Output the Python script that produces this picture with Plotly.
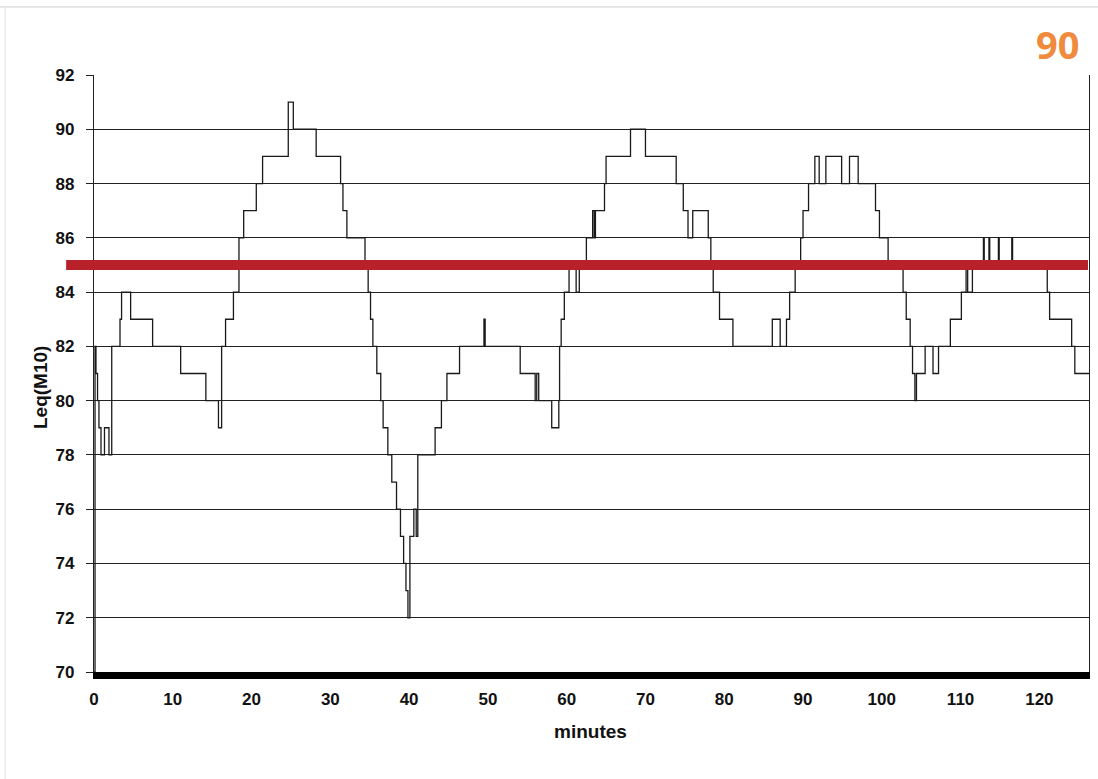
import plotly.graph_objects as go

# Step series: change points (minutes) and Leq(M10) levels (dB)
times = [0, 0.13, 0.25, 0.45, 0.63, 0.89, 1.33, 1.9, 2.25, 3.3, 3.5, 4.65, 7.44, 11.0, 14.2, 15.8,
         16.2, 16.7, 17.7, 18.4, 19.0, 20.6, 21.4, 24.66, 25.3, 28.2, 31.3, 31.6, 32.1, 34.4, 34.8,
         35.1, 35.4, 35.9, 36.4, 36.7, 37.3, 37.8, 38.4, 38.9, 39.3, 39.6, 39.85, 40.1, 40.6, 40.9,
         41.1, 43.3, 44.1, 44.8, 46.4, 49.5, 49.65, 54.1, 56.0, 56.2, 56.45, 58.1, 59.0, 59.1, 59.3,
         59.7, 60.3, 61.2, 61.6, 62.5, 63.3, 63.5, 63.65, 64.8, 65.0, 68.1, 70.0, 73.9, 74.8, 75.4,
         76.0, 77.97, 78.3, 78.6, 79.4, 81.1, 86.1, 87.1, 87.9, 88.3, 89.0, 89.7, 90.0, 90.7, 91.5,
         92.05, 92.9, 94.9, 95.9, 97.0, 99.2, 99.7, 100.8, 102.7, 103.1, 103.6, 103.9, 104.2, 104.4,
         105.5, 106.5, 107.2, 108.7, 110.1, 110.7, 110.9, 111.5, 112.9, 113.0, 113.6, 113.7, 114.8,
         114.9, 116.5, 116.6, 121.0, 121.3, 124.1, 124.5, 126.3]
levels = [70, 82, 81, 80, 79, 78, 79, 78, 82, 83, 84, 83, 82, 81, 80, 79,
          82, 83, 84, 86, 87, 88, 89, 91, 90, 89, 88, 87, 86, 85, 84,
          83, 82, 81, 80, 79, 78, 77, 76, 75, 74, 73, 72, 75, 76, 75,
          78, 79, 80, 81, 82, 83, 82, 81, 80, 81, 80, 79, 80, 82, 83,
          84, 85, 84, 85, 86, 87, 86, 87, 88, 89, 90, 89, 88, 87, 86,
          87, 86, 85, 84, 83, 82, 83, 82, 83, 84, 85, 86, 87, 88, 89,
          88, 89, 88, 89, 88, 87, 86, 85, 84, 83, 82, 81, 80, 81,
          82, 81, 82, 83, 84, 85, 84, 85, 86, 85, 86, 85, 86,
          85, 86, 85, 84, 83, 82, 81, 81]

threshold = 85
x_ticks = list(range(0, 121, 10))
y_ticks = list(range(70, 93, 2))
x_max = 126.3

fig = go.Figure()
fig.add_trace(go.Scatter(x=times, y=levels, mode="lines", line_shape="hv",
                         line=dict(color="#1a1a1a", width=1.3), hoverinfo="skip",
                         showlegend=False))

font_tick = dict(family="Liberation Sans, Arial, sans-serif", size=17, color="#111",
                 weight="bold")
lab_font = dict(family="Liberation Sans, Arial, sans-serif", size=19, color="#111")

fig.update_layout(
    width=1098, height=779,
    margin=dict(l=94, r=9, t=75, b=107),
    paper_bgcolor="white", plot_bgcolor="white",
    xaxis=dict(range=[0, x_max], tickvals=x_ticks, showgrid=False, zeroline=False,
               showline=True, linecolor="black", linewidth=7, ticks="",
               tickfont=font_tick, ticklabelstandoff=6),
    yaxis=dict(range=[70, 92], tickvals=y_ticks, showgrid=True, gridcolor="#222",
               gridwidth=1.1, zeroline=False, showline=True, linecolor="#222",
               linewidth=1.2, mirror=True, ticks="outside", ticklen=7, tickcolor="#222",
               tickfont=font_tick, ticklabelstandoff=8),
    shapes=[
        dict(type="line", xref="paper", yref="y", x0=-0.028, x1=0.999, y0=threshold,
             y1=threshold, line=dict(color="#b8202a", width=10), layer="above"),
        dict(type="line", xref="paper", yref="paper", x0=-0.0945, x1=1.01, y0=1.114, y1=1.114,
             line=dict(color="#cfcfcf", width=1)),
        dict(type="line", xref="paper", yref="paper", x0=-0.0894, x1=-0.0894, y0=1.114, y1=-0.2,
             line=dict(color="#e0e0e0", width=1)),
    ],
    annotations=[
        dict(text="<b>minutes</b>", xref="paper", yref="paper", x=(590 - 94) / 995,
             y=(672 - 731) / 597, showarrow=False, xanchor="center", yanchor="middle",
             font=lab_font),
        dict(text="<b>Leq(M10)</b>", xref="paper", yref="paper", x=(40 - 94) / 995,
             y=(672 - 388) / 597, showarrow=False, xanchor="center", yanchor="middle",
             textangle=-90, font=lab_font),
        dict(text="<b>90</b>", xref="paper", yref="paper", x=(1057 - 94) / 995,
             y=(672 - 44) / 597, showarrow=False, xanchor="center", yanchor="middle",
             font=dict(family="Open Sans, sans-serif", size=38, color="#f08a3c")),
    ],
)
fig.write_html("out.html")
